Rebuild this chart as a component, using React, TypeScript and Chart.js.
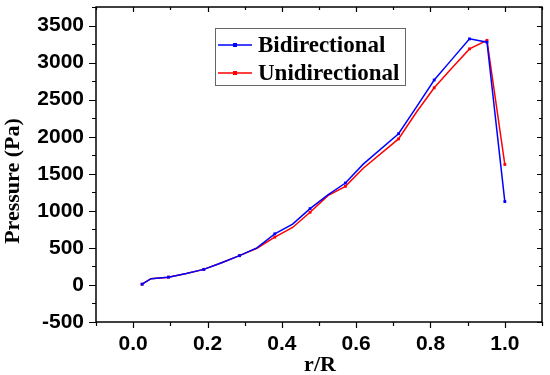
import React, { useEffect, useRef } from "react";
import { Chart, registerables } from "chart.js";

Chart.register(...registerables);

const rR = [0.024, 0.048, 0.095, 0.143, 0.19, 0.238, 0.286, 0.333, 0.381, 0.429, 0.476, 0.524, 0.571, 0.619, 0.714, 0.762, 0.81, 0.857, 0.905, 0.952, 1.0];
const bidirectional = [10, 85, 105, 155, 210, 300, 395, 500, 690, 820, 1030, 1215, 1375, 1630, 2040, 2400, 2765, 3040, 3320, 3275, 1125];
const unidirectional = [10, 85, 105, 155, 210, 300, 395, 495, 645, 775, 980, 1205, 1330, 1575, 1970, 2330, 2660, 2925, 3185, 3300, 1625];
const markedIdx = [0, 2, 4, 6, 8, 10, 12, 14, 16, 18, 19, 20];

const xTicks = [0.0, 0.2, 0.4, 0.6, 0.8, 1.0];
const xMinor = [-0.1, 0.1, 0.3, 0.5, 0.7, 0.9, 1.1];
const yTicks = [-500, 0, 500, 1000, 1500, 2000, 2500, 3000, 3500];
const yMinor = [-250, 250, 750, 1250, 1750, 2250, 2750, 3250, 3750];

const seriesNames = ["Bidirectional", "Unidirectional"];
const seriesColors = ["#0000ff", "#ff0000"];

const SANS = "'Liberation Sans', Arial, sans-serif";
const SERIF = "'Liberation Serif', 'Times New Roman', serif";

const framePlugin = {
  id: "framePlugin",
  afterDraw(chart: any) {
    const { ctx, chartArea: a, scales } = chart;
    const xs = scales.x;
    const ys = scales.y;
    ctx.save();
    ctx.strokeStyle = "#000";
    ctx.lineWidth = 1.5;
    ctx.strokeRect(a.left, a.top, a.right - a.left, a.bottom - a.top);
    ctx.lineWidth = 1.2;
    ctx.beginPath();
    const majL = 7, minL = 4;
    yTicks.forEach((v) => {
      const y = Math.round(ys.getPixelForValue(v)) + 0.5;
      ctx.moveTo(a.left, y); ctx.lineTo(a.left - majL, y);
      ctx.moveTo(a.right, y); ctx.lineTo(a.right - 5, y);
    });
    yMinor.forEach((v) => {
      const y = Math.round(ys.getPixelForValue(v)) + 0.5;
      ctx.moveTo(a.left, y); ctx.lineTo(a.left - minL, y);
      ctx.moveTo(a.right, y); ctx.lineTo(a.right - 3, y);
    });
    xTicks.forEach((v) => {
      const x = Math.round(xs.getPixelForValue(v)) + 0.5;
      ctx.moveTo(x, a.bottom); ctx.lineTo(x, a.bottom + 6);
      ctx.moveTo(x, a.top); ctx.lineTo(x, a.top + 5);
    });
    xMinor.forEach((v) => {
      const x = Math.round(xs.getPixelForValue(v)) + 0.5;
      ctx.moveTo(x, a.bottom); ctx.lineTo(x, a.bottom + 4);
      ctx.moveTo(x, a.top); ctx.lineTo(x, a.top + 3);
    });
    ctx.stroke();

    // axis titles
    ctx.fillStyle = "#000";
    ctx.font = `bold 22px ${SERIF}`;
    ctx.textAlign = "center";
    ctx.textBaseline = "alphabetic";
    ctx.fillText("r/R", 320, 371);
    ctx.save();
    ctx.translate(19, 181);
    ctx.rotate(-Math.PI / 2);
    ctx.fillText("Pressure (Pa)", 0, 0);
    ctx.restore();

    // legend
    ctx.fillStyle = "#fff";
    ctx.fillRect(215, 28, 190, 57);
    ctx.strokeStyle = "#666";
    ctx.lineWidth = 1;
    ctx.strokeRect(215.5, 28.5, 190, 57);
    const rows = [45, 73];
    seriesNames.forEach((name, i) => {
      const y = rows[i];
      ctx.strokeStyle = seriesColors[i];
      ctx.lineWidth = 1.5;
      ctx.beginPath();
      ctx.moveTo(218, y); ctx.lineTo(252, y);
      ctx.stroke();
      ctx.fillStyle = seriesColors[i];
      ctx.fillRect(233, y - 2, 4, 4);
      ctx.fillStyle = "#000";
      ctx.font = `bold 23px ${SERIF}`;
      ctx.textAlign = "left";
      ctx.textBaseline = "middle";
      ctx.fillText(name, 258, y + 1);
    });
    ctx.restore();
  },
};

const zeroPad = (s: any) => {
  s.paddingTop = 0;
  s.paddingBottom = 0;
  s.paddingLeft = 0;
  s.paddingRight = 0;
};

export default function App() {
  const ref = useRef<HTMLCanvasElement>(null);
  useEffect(() => {
    document.body.style.margin = "0";
    const mk = (vals: number[], i: number) => ({
      label: seriesNames[i],
      data: rR.map((x, k) => ({ x, y: vals[k] })),
      borderColor: seriesColors[i],
      backgroundColor: seriesColors[i],
      borderWidth: 1.5,
      pointStyle: "rect" as const,
      pointRadius: (c: any) => (markedIdx.includes(c.dataIndex) ? 2 : 0),
      pointBorderWidth: 0,
      tension: 0,
    });
    const chart = new Chart(ref.current!, {
      type: "line",
      data: { datasets: [mk(bidirectional, 0), mk(unidirectional, 1)] },
      options: {
        animation: false,
        responsive: false,
        layout: { padding: { top: 7, right: 8, left: 0, bottom: 0 } },
        plugins: { legend: { display: false }, tooltip: { enabled: false } },
        scales: {
          x: {
            type: "linear",
            min: -0.1,
            max: 1.1,
            grid: { display: false, drawTicks: false },
            border: { display: false },
            ticks: {
              color: "#000",
              font: { family: SANS, size: 21, weight: "bold" },
              padding: 10,
              callback: (v: any) => Number(v).toFixed(1),
            },
            afterBuildTicks: (s: any) => { s.ticks = xTicks.map((v) => ({ value: v })); },
            afterFit: (s: any) => { s.height = 53; zeroPad(s); },
          },
          y: {
            type: "linear",
            min: -500,
            max: 3750,
            grid: { display: false, drawTicks: false },
            border: { display: false },
            ticks: {
              color: "#000",
              font: { family: SANS, size: 21, weight: "bold" },
              padding: 12,
              callback: (v: any) => String(v),
            },
            afterBuildTicks: (s: any) => { s.ticks = yTicks.map((v) => ({ value: v })); },
            afterFit: (s: any) => { s.width = 96; zeroPad(s); },
          },
        },
      },
      plugins: [framePlugin],
    });
    return () => chart.destroy();
  }, []);
  return (
    <div style={{ width: 550, height: 375 }}>
      <canvas ref={ref} width={550} height={375} />
    </div>
  );
}
